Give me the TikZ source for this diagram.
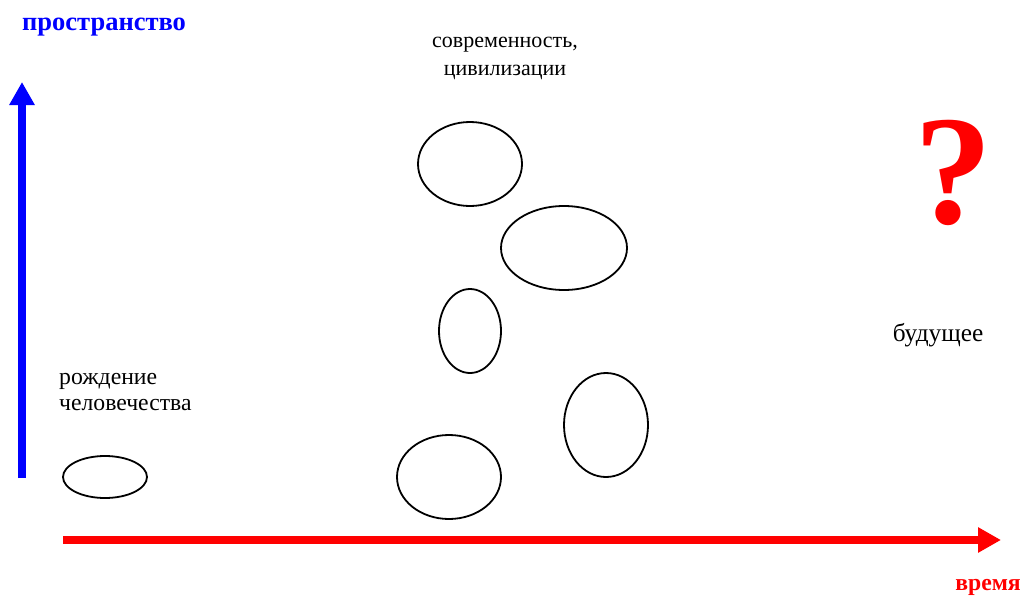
\documentclass[tikz,border=0pt]{standalone}
\usepackage{fontspec}
\setmainfont{Liberation Serif}
\usetikzlibrary{arrows.meta}
\tikzset{
  axis/.style={line width=8pt,-{Triangle[length=23pt,width=24pt]}},
  lbl/.style={inner sep=0pt},
  bl/.style={inner sep=0pt}
}
\begin{document}
\begin{tikzpicture}[x=1pt,y=-1pt]
\useasboundingbox (0,0) rectangle (1022,597);
% axes
\coordinate (ybot) at (22,478);
\coordinate (ytop) at (22,82);
\coordinate (xl) at (63,540);
\coordinate (xr) at (1001,540);
\draw[axis,blue] (ybot) -- (ytop);
\draw[axis,red] (xl) -- (xr);
% labels
\node[bl,blue,anchor=west,font=\fontsize{26.5}{30}\selectfont\bfseries] (space) at (22,27) {пространство};
\node[bl,red,anchor=east,font=\fontsize{23.7}{28}\selectfont\bfseries] (time) at (1021,587) {время};
\node[lbl,align=center,font=\fontsize{22}{28}\selectfont] (modern) at (505,58) {современность,\\цивилизации};
\node[lbl,align=left,anchor=west,font=\fontsize{23.7}{26}\selectfont] (birth) at (59,392) {рождение\\человечества};
\node[lbl,anchor=center,font=\fontsize{25.3}{28}\selectfont] (future) at (938,335) {будущее};
\node[red,inner sep=0pt,font=\fontsize{156}{156}\selectfont\bfseries] (q) at (953,173) {?};
% ellipses
\draw[line width=1.8pt] (470,164) ellipse [x radius=52, y radius=42];
\draw[line width=1.8pt] (564,248) ellipse [x radius=63, y radius=42];
\draw[line width=1.8pt] (470,331) ellipse [x radius=31, y radius=42];
\draw[line width=1.8pt] (606,425) ellipse [x radius=42, y radius=52];
\draw[line width=1.8pt] (449,477) ellipse [x radius=52, y radius=42];
\draw[line width=1.8pt] (105,477) ellipse [x radius=42, y radius=21];
\end{tikzpicture}
\end{document}
